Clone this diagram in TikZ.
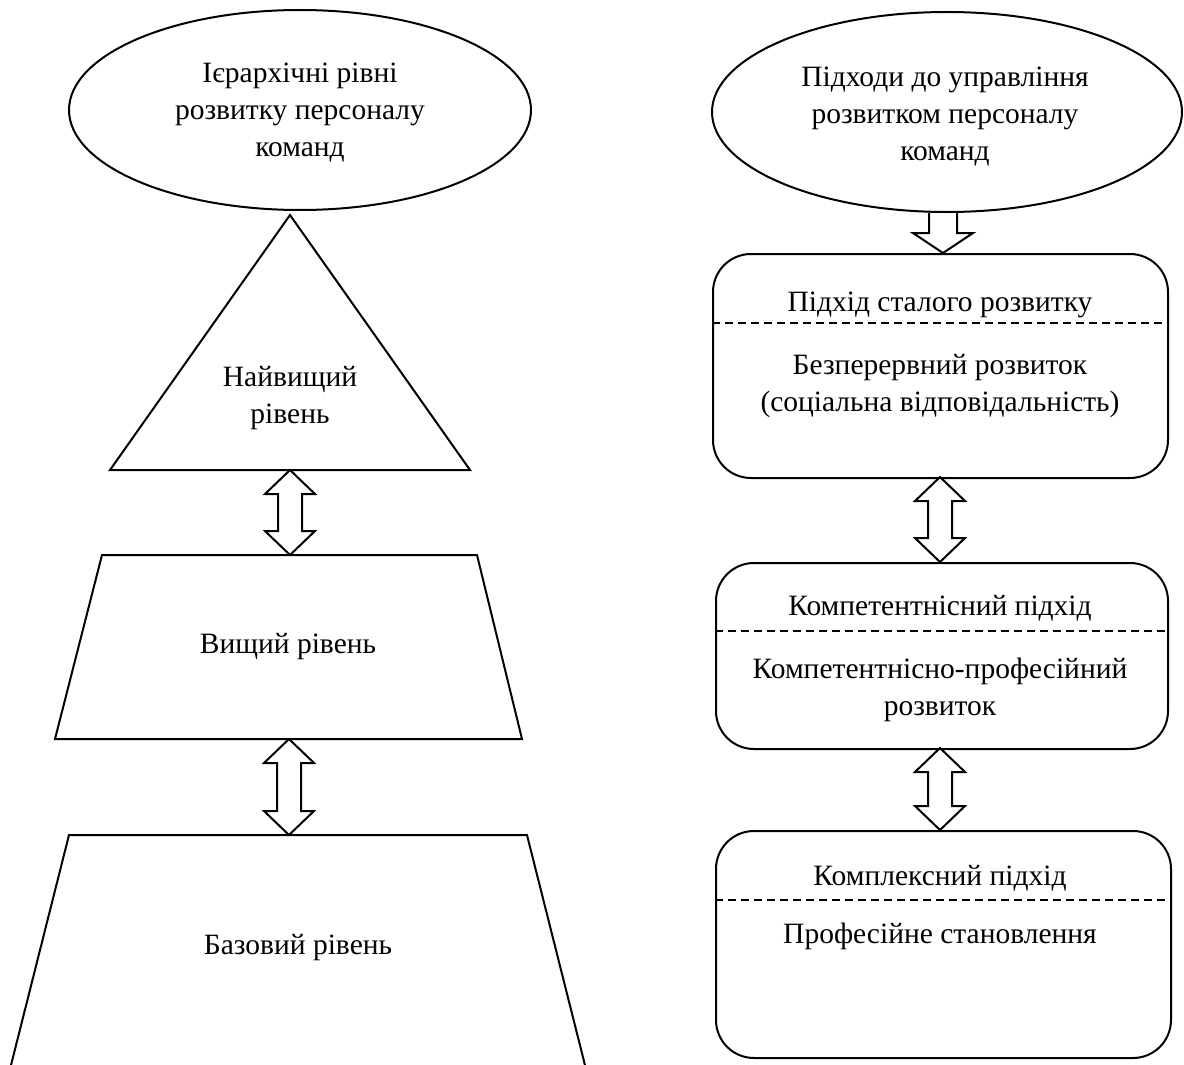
\documentclass[tikz,border=0pt]{standalone}
\usepackage{fontspec}
\setmainfont{Liberation Serif}
\usetikzlibrary{shapes.geometric,calc}
\newcommand\dblarr[2]{%
  \draw let \p1=(#1), \p2=(#2) in
    (\x1,\y1) -- (\x1-25pt,\y1-24pt) -- (\x1-12pt,\y1-24pt) -- (\x1-12pt,\y2+24pt)
    -- (\x1-25pt,\y2+24pt) -- (\x1,\y2) -- (\x1+25pt,\y2+24pt) -- (\x1+12pt,\y2+24pt)
    -- (\x1+12pt,\y1-24pt) -- (\x1+25pt,\y1-24pt) -- cycle;}
\newcommand\downarr[2]{%
  \draw let \p1=(#1), \p2=(#2) in
    (\x1-14pt,\y1) -- (\x1-14pt,\y2+20pt) -- (\x1-30pt,\y2+20pt) -- (\x1,\y2)
    -- (\x1+30pt,\y2+20pt) -- (\x1+14pt,\y2+20pt) -- (\x1+14pt,\y1);}
\begin{document}
\begin{tikzpicture}[x=1pt,y=-1pt, line width=2pt, line join=miter,
  txt/.style={font=\fontsize{29.5}{37}\selectfont, align=center, inner sep=0pt},
  oval/.style={draw, ellipse, minimum width=462pt, minimum height=200pt, inner sep=0pt},
  rbox/.style={draw, rounded corners=38pt, inner sep=0pt, anchor=north west},
  sep/.style={line width=1.3pt, dash pattern=on 8pt off 5pt}]
\useasboundingbox (0,0) rectangle (1184,1065);
\clip (0,0) rectangle (1184,1065);

% left column
\node[oval] (e1) at (300,110) {};
\node[txt] (e1t) at (300,113) {Ієрархічні рівні\\розвитку персоналу\\команд};

\coordinate (tA) at (290,215);
\coordinate (tL) at (110,470);
\coordinate (tR) at (470,470);
\coordinate (tB) at (290,470);
\draw (tA) -- (tL) -- (tR) -- cycle;
\node[txt] (t1) at (290,398) {Найвищий\\рівень};

\coordinate (p2T) at (289,555);
\coordinate (p2B) at (289,739);
\draw (102,555) -- (477,555) -- (522,739) -- (55,739) -- cycle;
\node[txt] (t2) at (288,647) {Вищий рівень};

\coordinate (p3T) at (290,835);
\draw (69,835) -- (527,835) -- (590,1085) -- (6,1085) -- cycle;
\node[txt] (t3) at (298,948) {Базовий рівень};

\dblarr{tB}{p2T}
\dblarr{p2B}{p3T}

% right column
\node[oval, minimum width=470pt] (e2) at (947,112) {};
\node[txt] (e2t) at (945,117) {Підходи до управління\\розвитком персоналу\\команд};

\node[rbox, minimum width=455pt, minimum height=224pt] (b1) at (712,253) {};
\draw[sep] (712,323) -- (1167,323);
\node[txt] (b1t) at (940,305) {Підхід сталого розвитку};
\node[txt] (b1b) at (940,386) {Безперервний розвиток\\(соціальна відповідальність)};

\node[rbox, minimum width=452pt, minimum height=186pt] (b2) at (715,562) {};
\draw[sep] (715,631) -- (1167,631);
\node[txt] (b2t) at (940,608) {Компетентнісний підхід};
\node[txt] (b2b) at (940,690) {Компетентнісно-професійний\\розвиток};

\node[rbox, minimum width=455pt, minimum height=227pt] (b3) at (715,830) {};
\draw[sep] (715,900) -- (1170,900);
\node[txt] (b3t) at (940,878) {Комплексний підхід};
\node[txt] (b3b) at (940,936) {Професійне становлення};

\coordinate (d1) at (943,213);
\coordinate (d2) at (943,253);
\downarr{d1}{d2}
\coordinate (a1) at (940,477);
\coordinate (a2) at (940,562);
\dblarr{a1}{a2}
\coordinate (a3) at (940,748);
\coordinate (a4) at (940,830);
\dblarr{a3}{a4}
\end{tikzpicture}
\end{document}
